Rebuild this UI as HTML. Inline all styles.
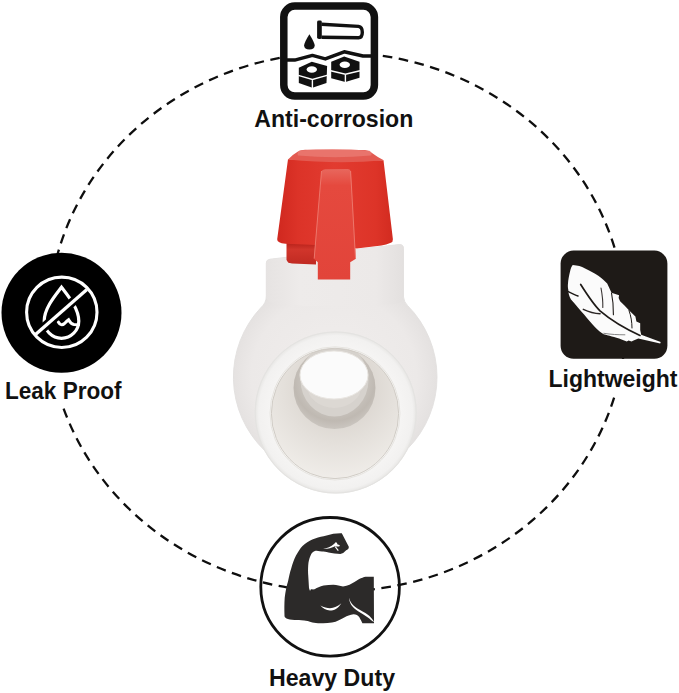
<!DOCTYPE html>
<html><head><meta charset="utf-8">
<style>
html,body{margin:0;padding:0;background:#fff;width:679px;height:693px;overflow:hidden}
svg{position:absolute;left:0;top:0}
text{font-family:"Liberation Sans",sans-serif;font-weight:bold;fill:#111}
</style></head><body>
<svg width="679" height="693" viewBox="0 0 679 693">
<defs>
  <radialGradient id="sph" gradientUnits="userSpaceOnUse" cx="334" cy="377" r="103">
    <stop offset="0" stop-color="#f1eeed"/>
    <stop offset="0.8" stop-color="#ece9e8"/>
    <stop offset="1" stop-color="#e4e1e0"/>
  </radialGradient>
  <linearGradient id="neckg" x1="0" x2="1" y1="0" y2="0">
    <stop offset="0" stop-color="#e6e3e2"/>
    <stop offset="0.25" stop-color="#eeebea"/>
    <stop offset="0.8" stop-color="#ece9e8"/>
    <stop offset="1" stop-color="#e3e0df"/>
  </linearGradient>
  <radialGradient id="ringg" cx="0.5" cy="0.5" r="0.5">
    <stop offset="0.78" stop-color="#f6f5f4"/>
    <stop offset="0.95" stop-color="#f2f1f0"/>
    <stop offset="1" stop-color="#e6e5e3"/>
  </radialGradient>
  <linearGradient id="capg" x1="0" x2="1" y1="0" y2="0">
    <stop offset="0" stop-color="#d0281f"/>
    <stop offset="0.18" stop-color="#dc3328"/>
    <stop offset="0.5" stop-color="#e23b30"/>
    <stop offset="0.85" stop-color="#dd3428"/>
    <stop offset="1" stop-color="#d22b20"/>
  </linearGradient>
  <linearGradient id="ringred" x1="0" x2="0" y1="0" y2="1">
    <stop offset="0" stop-color="#b8221a"/>
    <stop offset="0.3" stop-color="#d1352b"/>
    <stop offset="1" stop-color="#c02a22"/>
  </linearGradient>
  <linearGradient id="handleg" x1="0" x2="0" y1="0" y2="1">
    <stop offset="0" stop-color="#e8675d"/>
    <stop offset="0.15" stop-color="#e5493e"/>
    <stop offset="1" stop-color="#e2443a"/>
  </linearGradient>
  <radialGradient id="bore" gradientUnits="userSpaceOnUse" cx="338" cy="388" r="92">
    <stop offset="0.35" stop-color="#dcd7d1"/>
    <stop offset="0.6" stop-color="#e4e0db"/>
    <stop offset="1" stop-color="#f0ede9"/>
  </radialGradient>
  <radialGradient id="wallg" gradientUnits="userSpaceOnUse" cx="334.5" cy="380" r="48">
    <stop offset="0.6" stop-color="#cbc6c0"/>
    <stop offset="0.85" stop-color="#bfb9b2"/>
    <stop offset="1" stop-color="#c9c4be"/>
  </radialGradient>
</defs>

<!-- dashed ellipse -->
<path d="M337.006,591.427 A288.707,269.473 0 0 1 48.299,321.954 A288.707,269.473 0 0 1 337.006,52.481 A288.707,269.473 0 0 1 625.713,321.954 A288.707,269.473 0 0 1 337.006,591.427" fill="none" stroke="#0e0e0e" stroke-width="2.3" stroke-dasharray="9.6 6.577" stroke-dashoffset="15.566"/>

<!-- ========== VALVE ========== -->
<!-- body (neck + sphere) -->
<path d="M266.3,263 Q266.3,259.6 270,259.2 L399,244.6 Q403.5,244.2 403.5,248.5 L403.5,297 Q404,302 407.5,305.5 A101.8,101.8 0 1 1 261,307.5 Q266.3,303 266.3,296 Z" fill="url(#sph)" stroke="#e2e0df" stroke-width="0.9"/>
<path d="M266.3,263 Q266.3,259.6 270,259.2 L399,244.6 Q403.5,244.2 403.5,248.5 L403.5,297 Q403.5,302 397,303.5 Q335,310 273,303.5 Q266.3,302 266.3,296 Z" fill="url(#neckg)"/>
<!-- front pipe ring -->
<circle cx="335.7" cy="412.5" r="81" fill="url(#ringg)"/>
<circle cx="335.7" cy="412.5" r="80.5" fill="none" stroke="#e4e3e1" stroke-width="1"/>
<!-- bore -->
<ellipse cx="335" cy="413.4" rx="63.6" ry="65.2" fill="url(#bore)"/>
<clipPath id="boreclip"><ellipse cx="335" cy="413.4" rx="63.1" ry="64.7"/></clipPath>
<g clip-path="url(#boreclip)">
<circle cx="334.5" cy="388" r="41" fill="url(#wallg)"/>
<ellipse cx="334.5" cy="380" rx="34" ry="36.5" fill="#d6d2cd"/>
<ellipse cx="334.3" cy="386" rx="27" ry="22" fill="#dedad6" opacity="0.7"/>
<ellipse cx="334" cy="375" rx="34" ry="24" fill="#fbfbfb" stroke="#e9e6e2" stroke-width="1"/>
</g>
<ellipse cx="335" cy="413.4" rx="63.6" ry="65.2" fill="none" stroke="#cdc8c2" stroke-width="0.9"/>
<ellipse cx="335" cy="413.4" rx="65" ry="66.6" fill="none" stroke="#e2dfdb" stroke-width="0.8"/>

<!-- red cap lower ring -->
<path d="M286.5,243 L286.5,259.5 Q287,263 292,263.5 L316,264.5 L316,243 Z" fill="url(#ringred)"/>
<!-- red cap main -->
<path d="M288,159.2 L383.5,160.2 L392.9,239.2 Q393,242 390.8,242.8 Q386,245 381.5,245.4 L356.8,248.5 L316,245 L285.5,243.8 Q281,243.5 279.3,242.3 Q277,241 277.2,239.2 Z" fill="url(#capg)"/>
<!-- lid -->
<path d="M288,159.4 Q292,155 298,151.5 Q301,149.8 305,149.7 L365,150 Q369,150.5 372,153 Q378,157.5 383.7,160.2 Q340,164.5 288,159.4 Z" fill="#e35a51"/>
<path d="M299.5,150.5 Q334,148 369.5,150.8 Q373,153.5 371,155.5 Q335,159 298,155.5 Q296.5,153 299.5,150.5 Z" fill="#e9776f" opacity="0.9"/>
<!-- handle -->
<path d="M321.5,172 Q322,169.2 325.7,169.2 L347.5,169 Q350.6,169.2 350.8,172 L355.9,258.8 L350.2,262.2 L350.2,279.4 L317.8,279.4 L317.8,262.2 L313.8,258.8 Z" fill="url(#handleg)"/>
<path d="M321.5,171 L314.2,258.5" stroke="#f08a7f" stroke-width="0.9" fill="none" opacity="0.8"/>
<path d="M350.6,171 L355.5,258.5" stroke="#f08a7f" stroke-width="0.9" fill="none" opacity="0.8"/>

<!-- ========== ANTI-CORROSION ICON ========== -->
<rect x="283.8" y="6.1" width="90.6" height="89.9" rx="11" ry="11" fill="#fff" stroke="#111" stroke-width="7.5"/>
<!-- test tube -->
<path d="M317.1,22 Q317.1,20.6 319,20.6 L320.2,20.6 Q321.8,20.6 321.8,22 L321.8,37.5 Q321.8,38.9 320.2,38.9 L319,38.9 Q317.1,38.9 317.1,37.5 Z" fill="#111"/>
<path d="M321.5,24.2 L358.5,26.4 Q362.3,27 362.3,32.2 Q362.3,37.6 358.5,37.8 L321.5,37.3" fill="none" stroke="#111" stroke-width="3.4" stroke-linejoin="round"/>
<!-- drop -->
<path d="M309.4,34.2 Q304.2,42.5 304.1,45.5 Q304.3,49.5 309.4,49.6 Q314.5,49.5 314.7,45.5 Q314.6,42.5 309.4,34.2 Z" fill="#111"/>
<!-- water line -->
<path d="M287,60 L294.7,60.1 L312.4,55.4 L325.3,58.9 L344.2,51.8 L363,56 L371,56" fill="none" stroke="#111" stroke-width="3.5" stroke-linejoin="round"/>
<!-- nut left -->
<path d="M298.8,67.7 L311.8,61.8 L327.1,66 L326.5,83 L312.4,87.8 L298.8,83 Z" fill="#111"/>
<path d="M298.3,75.4 L312.4,79.5 L327,75.4 M312.4,79.5 L312.4,88" stroke="#fff" stroke-width="1.4" fill="none"/>
<ellipse cx="311.8" cy="69.5" rx="5.2" ry="3.2" fill="#fff"/>
<!-- nut right -->
<path d="M331.2,61.8 L344.2,56.5 L359.5,61.8 L359.5,77.7 L345.4,81.9 L331.2,78.3 Z" fill="#111"/>
<path d="M330.7,70.7 L345.4,74.2 L360,70.7 M345.4,74.2 L345.4,82.2" stroke="#fff" stroke-width="1.4" fill="none"/>
<ellipse cx="344.8" cy="64.8" rx="5.2" ry="3.2" fill="#fff"/>

<text x="254.3" y="126.7" font-size="23" textLength="159" lengthAdjust="spacingAndGlyphs">Anti-corrosion</text>

<!-- ========== LEAK PROOF ICON ========== -->
<circle cx="61.5" cy="312.8" r="60" fill="#000"/>
<path d="M61.5,287.2 C56,294.5 44.2,308 44.2,321 A17.3,17.3 0 0 0 78.8,321 C78.8,308 67,294.5 61.5,287.2 Z" fill="none" stroke="#fff" stroke-width="3.2" stroke-linejoin="miter"/>
<path d="M58.2,321.9 Q61,326.5 64.5,323.5 Q67,321 68.6,319.8 Q71,324.2 74,324.6 L78.5,324.8" fill="none" stroke="#fff" stroke-width="3" stroke-linecap="round"/>
<path d="M35.5,334.6 L86.9,289.4" stroke="#000" stroke-width="8.8"/>
<circle cx="61.8" cy="312.3" r="35.2" fill="none" stroke="#fff" stroke-width="3.1"/>
<path d="M35.5,334.6 L86.9,289.4" stroke="#fff" stroke-width="3.3"/>
<rect x="0" y="373" width="130" height="35" fill="#fff"/>
<text x="5" y="399.2" font-size="23" textLength="116.5" lengthAdjust="spacingAndGlyphs">Leak Proof</text>

<!-- ========== LIGHTWEIGHT ICON ========== -->
<rect x="560.6" y="250.6" width="106.8" height="108.2" rx="13" ry="13" fill="#1e1a17"/>
<path d="M572.7,265.1 C578,265.5 581,266.5 585.1,268.6 C590,271 594,273 598.3,275.7 C602,278.5 605,281 607.2,283.6 L611.5,292.7 L619.1,295.3 L618.6,298 L620.1,301.3 C623,304 626,307 628.7,309.9 L635.4,316.6 L636.4,321.4 L640.2,323.3 L640.2,330 L641.2,334.8 L660.7,342 L660.2,343.4 L638.3,338.6 L633,340.8 L631.6,341.5 L628.5,340.5 L626.8,341.5 C624,340.5 621.5,339.5 619.1,338.6 C615.5,337.5 612.5,336.6 609.6,335.7 C606,334.8 605,334.5 603.7,334.2 C600.5,332.5 598,330 595.6,327.8 C592,324 588,319.5 584.3,314.8 C580,310 576,305 571,299.5 C569,296 568.3,293 568.3,289.8 C567.9,288 567.8,286.5 567.9,284.5 C568.2,280 569,275.5 570.1,271.3 C570.8,268.5 571.5,266.5 572.7,265.1 Z" fill="#fbfbfb"/>
<g fill="none" stroke-linecap="round">
<path d="M580.7,284.5 C588,296 594,305 600,310.8 C612,321 626,329 640,335.4" stroke="#1e1a17" stroke-width="1.7"/>
<path d="M601,288 C602.5,296 603,302 602.8,307.5" stroke="#3a3534" stroke-width="1.1"/>
<path d="M568.3,291.6 C572,293.5 575,295 578,296" stroke="#1e1a17" stroke-width="1.4"/>
<path d="M583.3,309.3 C589,312 595,313.5 600.1,313.7" stroke="#2a2524" stroke-width="1.4"/>
<path d="M611.5,293 C613,300 613.5,307 613.4,314.7" stroke="#1e1a17" stroke-width="1.1"/>
<path d="M629,310.5 C631,316 632,322 632,328" stroke="#1e1a17" stroke-width="1"/>
<path d="M603.8,333.3 C611,334.5 618,334.8 624.9,334.8" stroke="#777" stroke-width="0.9"/>
</g>
<rect x="545" y="359" width="134" height="36.5" fill="#fff"/>
<text x="548.5" y="386.5" font-size="23" textLength="129" lengthAdjust="spacingAndGlyphs">Lightweight</text>

<!-- ========== HEAVY DUTY ICON ========== -->
<circle cx="330.1" cy="586.8" r="69.3" fill="none" stroke="#111" stroke-width="2.8"/>
<path d="M341.8,533.3 L348.8,546.8 Q349.2,548.6 347.6,549.6 L346.2,550.3 Q343.5,553.6 340.3,554.1 C337,554 332,553.2 328.5,552.6 C326,552 324,551.6 322,551.6 C319,551 317,550.8 315.5,550.8 C313,551.5 311.5,553 310.6,555.6 C309,559 308.5,562 308.2,565.4 C308,569 308,572 308.2,575.1 C308.5,580 308.8,584 309,588 L309.8,590.5 C311,590.5 312.5,590 313.9,589.7 C317,588 320,586.5 323.6,585.6 C327,585 330,584.8 333.3,584.8 C337,585 340,586 343,586.4 C345.5,586 347.5,585.5 349.5,584.8 C353,583 356,581 359.2,579.1 C361.5,578 363.5,577 365.7,576.7 L373.8,576.7 L374,623.3 L362.4,623.2 C361.5,621 360.5,619.5 359.5,617.5 C358,615.2 356,614.3 353.6,614.3 C350,614.8 347,616.2 344.7,617.2 C341,619 337,621.8 332,622.6 C328,623.2 324,623.4 320.5,623.2 C317,623 314.5,622.8 312.4,622.4 C309,621.2 306,620.5 304.3,620.4 C300,620.2 297,620.2 294.6,620 C291,619.7 288,619.2 286.5,618.4 C285,617.5 284.5,616.5 284.5,615.9 C284.3,610 284.3,603 284.7,597.8 C285.5,592 286.5,586 288,581.6 C289,577 290,572 291.2,568.6 C292.5,564 294,559.5 296,555.6 C298,552 300,548.5 302.5,545.9 C305.5,543 309,541 312.3,539.4 C316,538 320,536.8 323.6,536.2 C327,535.3 330,534.5 333.3,533.8 C336,533.4 339,533.2 341.8,533.3 Z" fill="#2c2a29"/>
<path d="M320.4,605.6 C324,607.5 327,608.2 330,608.2 C334,608 338,606 341.4,603.2 C338,608.5 334,610.5 330,610.5 C326,610.5 323,608.5 320.4,605.6 Z" fill="#fff"/>
<path d="M349,597.8 C350,601.5 351.5,603.8 353.5,605.5 C356,607.8 358,609 360.5,610.3 C364,612.3 367,614 369.5,616 C371.5,618 373,620 374.3,622.2 C372,620.8 370,619 367.5,617.2 C364.5,615.2 361.5,613.2 358.5,611.5 C355.5,609.5 353,607.5 351.3,605 C350,603 349.2,600.5 349,597.8 Z" fill="#fff"/>
<path d="M323.2,548.9 C327,548.6 331,546.5 334.3,543.8 L335.6,542.3 L337,542.8 L337.3,544.3 L339.9,545.3 L339.2,546.6 L336.3,546.6 L335,546.2 C332,547.8 327,549.2 323.2,548.9 Z" fill="#fff"/>
<path d="M335.2,546.6 L338.3,550.6" stroke="#fff" stroke-width="1.1" fill="none"/>
<text x="269" y="685.6" font-size="23" textLength="126" lengthAdjust="spacingAndGlyphs">Heavy Duty</text>
</svg>
</body></html>
